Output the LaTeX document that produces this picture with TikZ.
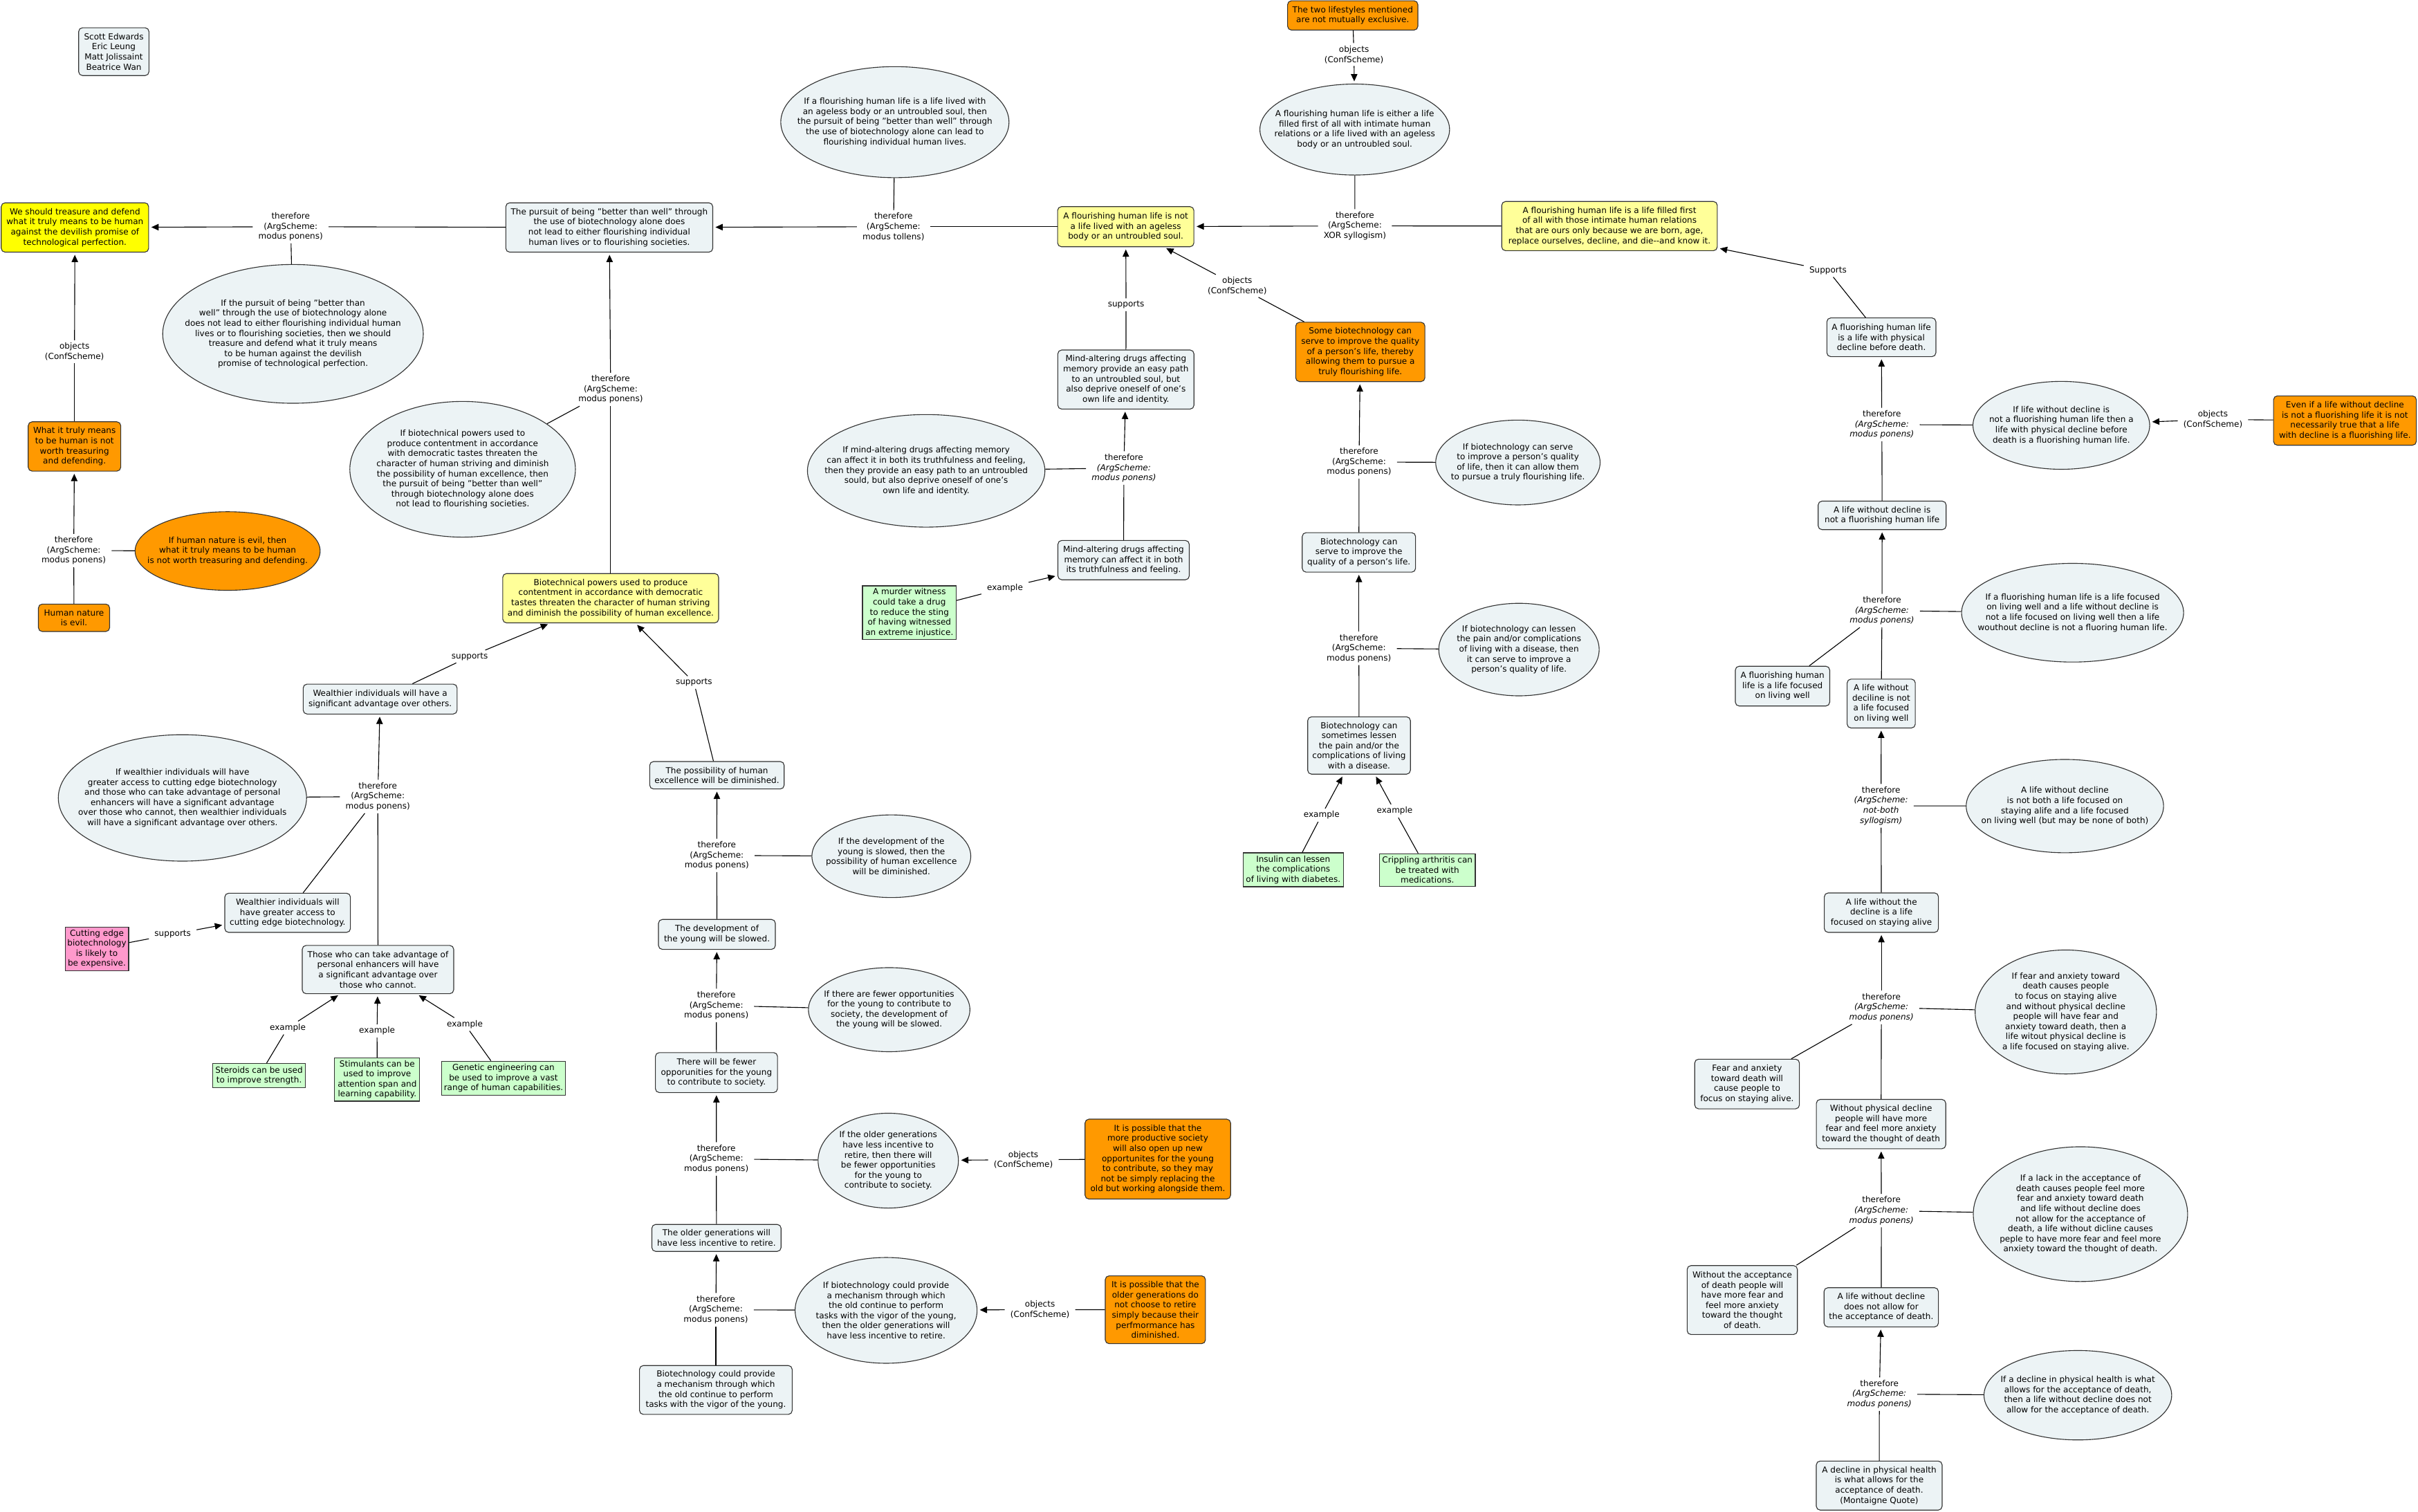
\documentclass[tikz,border=0pt]{standalone}
\usepackage{fontspec}
\setmainfont{DejaVu Sans}
\usetikzlibrary{shapes.geometric,arrows.meta}
\definecolor{lightbg}{RGB}{236,243,245}
\definecolor{yel}{RGB}{255,255,0}
\definecolor{lyel}{RGB}{255,255,153}
\definecolor{orng}{RGB}{255,153,0}
\definecolor{grn}{RGB}{204,255,204}
\definecolor{pnk}{RGB}{255,153,204}
\newcommand{\dgfs}{\fontsize{5.4pt}{6.55pt}\selectfont}
\tikzset{
 dbase/.style={draw=black!80, line width=0.5pt, rounded corners=2.5pt, align=center, inner xsep=1.5pt, inner ysep=1pt, font=\dgfs, text=black},
 dwh/.style 2 args={minimum width=#1pt, minimum height=#2pt},
 dbox/.style={dbase, fill=lightbg},
 dyel/.style={dbase, fill=yel},
 dlyel/.style={dbase, fill=lyel},
 dorg/.style={dbase, fill=orng},
 dgrn/.style={dbase, sharp corners, fill=grn},
 dpink/.style={dbase, sharp corners, fill=pnk},
 dell/.style={ellipse, draw=black!80, line width=0.5pt, fill=lightbg, inner sep=0pt},
 doell/.style={dell, fill=orng},
 dtxt/.style={align=center, font=\dgfs, inner sep=0pt, text=black},
 dlbl/.style={align=center, font=\dgfs, inner xsep=3.5pt, inner ysep=1.5pt, text=black},
 dcon/.style={line width=0.5pt, draw=black},
 darr/.style={dcon, -{Triangle[length=4.7pt,width=4.2pt]}, shorten >=1.5pt},
}
\begin{document}
\begin{tikzpicture}[x=1pt,y=-1pt]
\fill[white] (0,0) rectangle (1568,980);
\useasboundingbox (0,0) rectangle (1568,980);

% ---------- left part ----------
\node[dbox, dwh={45.6}{31}] (authors) at (73.8,33.5) {Scott Edwards\\Eric Leung\\Matt Jolissaint\\Beatrice Wan};
\node[dyel, dwh={95.6}{32}] (yel1) at (48.6,147.5) {We should treasure and defend\\what it truly means to be human\\against the devilish promise of\\technological perfection.};
\node[dlbl] (lA) at (188.5,147) {therefore\\(ArgScheme:\\modus ponens)};
\node[dell, dwh={169}{90}, label={[dtxt]center:{If the pursuit of being "better than\\well" through the use of biotechnology alone\\does not lead to either flourishing individual human\\lives or to flourishing societies, then we should\\treasure and defend what it truly means\\to be human against the devilish\\promise of technological perfection.}}] (e4) at (190,216.5) {};
\node[dlbl] (objA) at (48.3,228) {objects\\(ConfScheme)};
\node[dorg, dwh={60}{32}] (what) at (48.3,289.5) {What it truly means\\to be human is not\\worth treasuring\\and defending.};
\node[dlbl] (lB) at (47.8,357) {therefore\\(ArgScheme:\\modus ponens)};
\node[doell, dwh={120}{51}, label={[dtxt]center:{If human nature is evil, then\\what it truly means to be human\\is not worth treasuring and defending.}}] (oe7) at (147.6,357.3) {};
\node[dorg, dwh={46.2}{17.8}] (human) at (48,400.6) {Human nature\\is evil.};

\node[dbox, dwh={134.2}{32}] (pursuit) at (395.1,147.5) {The pursuit of being "better than well" through\\the use of biotechnology alone does\\not lead to either flourishing individual\\human lives or to flourishing societies.};
\node[dlbl] (lTol) at (579.4,147) {therefore\\(ArgScheme:\\modus tollens)};
\node[dell, dwh={148}{72}, label={[dtxt]center:{If a flourishing human life is a life lived with\\an ageless body or an untroubled soul, then\\the pursuit of being "better than well" through\\the use of biotechnology alone can lead to\\flourishing individual human lives.}}] (e11) at (580.3,79.2) {};
\node[dell, dwh={146.3}{88}, label={[dtxt]center:{If biotechnical powers used to\\produce contentment in accordance\\with democratic tastes threaten the\\character of human striving and diminish\\the possibility of human excellence, then\\the pursuit of being "better than well"\\through biotechnology alone does\\not lead to flourishing societies.}}] (e12) at (300,304.3) {};
\node[dlbl] (lC) at (396,252.5) {therefore\\(ArgScheme:\\modus ponens)};
\node[dlyel, dwh={140}{32}] (biot) at (396,387.9) {Biotechnical powers used to produce\\contentment in accordance with democratic\\tastes threaten the character of human striving\\and diminish the possibility of human excellence.};
\node[dbox, dwh={99.8}{19.4}] (wealth) at (246.5,453.3) {Wealthier individuals will have a\\significant advantage over others.};
\node[dlbl] (sup1) at (304.6,425.7) {supports};
\node[dlbl] (sup2) at (450,442.5) {supports};
\node[dlbl] (lD) at (245,516.5) {therefore\\(ArgScheme:\\modus ponens)};
\node[dell, dwh={161}{82}, label={[dtxt]center:{If wealthier individuals will have\\greater access to cutting edge biotechnology\\and those who can take advantage of personal\\enhancers will have a significant advantage\\over those who cannot, then wealthier individuals\\will have a significant advantage over others.}}] (e15) at (118.3,517.4) {};
\node[dbox, dwh={81.5}{25.4}] (access) at (186.5,591.9) {Wealthier individuals will\\have greater access to\\cutting edge biotechnology.};
\node[dpink, dwh={40.5}{28.3}] (pink) at (62.8,615.2) {Cutting edge\\biotechnology\\is likely to\\be expensive.};
\node[dlbl] (sup3) at (112,605.8) {supports};
\node[dbox, dwh={98.2}{31.3}] (those) at (245.1,628.7) {Those who can take advantage of\\personal enhancers will have\\a significant advantage over\\those who cannot.};
\node[dgrn, dwh={60.4}{15.6}] (steroids) at (168,697.5) {Steroids can be used\\to improve strength.};
\node[dgrn, dwh={55.2}{28}] (stim) at (244.6,700) {Stimulants can be\\used to improve\\attention span and\\learning capability.};
\node[dgrn, dwh={80.3}{22.3}] (genetic) at (326.5,699.2) {Genetic engineering can\\be used to improve a vast\\range of human capabilities.};
\node[dlbl] (ex1) at (186.6,666.5) {example};
\node[dlbl] (ex2) at (244.5,668.5) {example};
\node[dlbl] (ex3) at (301.4,664.2) {example};

% ---------- young column ----------
\node[dbox, dwh={87.2}{17.8}] (possib) at (464.9,502.7) {The possibility of human\\excellence will be diminished.};
\node[dlbl] (lE) at (464.8,554.7) {therefore\\(ArgScheme:\\modus ponens)};
\node[dell, dwh={103}{53.6}, label={[dtxt]center:{If the development of the\\young is slowed, then the\\possibility of human excellence\\will be diminished.}}] (e21) at (578,555.2) {};
\node[dbox, dwh={75.8}{19.4}] (dev) at (464.9,605.9) {The development of\\the young will be slowed.};
\node[dlbl] (lF) at (464.5,652) {therefore\\(ArgScheme:\\modus ponens)};
\node[dell, dwh={104.7}{54.5}, label={[dtxt]center:{If there are fewer opportunities\\for the young to contribute to\\society, the development of\\the young will be slowed.}}] (e23) at (576.6,654.7) {};
\node[dbox, dwh={79.2}{25.9}] (fewer) at (464.6,695.5) {There will be fewer\\opporunities for the young\\to contribute to society.};
\node[dlbl] (lG) at (464.5,751.5) {therefore\\(ArgScheme:\\modus ponens)};
\node[dell, dwh={91}{61.5}, label={[dtxt]center:{If the older generations\\have less incentive to\\retire, then there will\\be fewer opportunities\\for the young to\\contribute to society.}}] (e25) at (576,752.6) {};
\node[dorg, dwh={94.4}{51.8}] (oprod) at (750.8,751.6) {It is possible that the\\more productive society\\will also open up new\\opportunites for the young\\to contribute, so they may\\not be simply replacing the\\old but working alongside them.};
\node[dlbl] (objB) at (663.6,752) {objects\\(ConfScheme)};
\node[dbox, dwh={83.8}{17.5}] (older) at (464.6,802.7) {The older generations will\\have less incentive to retire.};
\node[dlbl] (lH) at (464.2,849.3) {therefore\\(ArgScheme:\\modus ponens)};
\node[dell, dwh={118}{68.6}, label={[dtxt]center:{If biotechnology could provide\\a mechanism through which\\the old continue to perform\\tasks with the vigor of the young,\\then the older generations will\\have less incentive to retire.}}] (e27) at (574.6,849.7) {};
\node[dorg, dwh={65}{44}] (oolder) at (749.2,849.3) {It is possible that the\\older generations do\\not choose to retire\\simply because their\\perfmormance has\\diminished.};
\node[dlbl] (objC) at (674.4,849.2) {objects\\(ConfScheme)};
\node[dbox, dwh={99}{31.7}] (could) at (464.2,901.3) {Biotechnology could provide\\a mechanism through which\\the old continue to perform\\tasks with the vigor of the young.};

% ---------- middle ----------
\node[dlyel, dwh={88.4}{26}] (yel29) at (730,147) {A flourishing human life is not\\a life lived with an ageless\\body or an untroubled soul.};
\node[dlbl] (lXOR) at (878.6,146.5) {therefore\\(ArgScheme:\\XOR syllogism)};
\node[dell, dwh={123}{59}, label={[dtxt]center:{A flourishing human life is either a life\\filled first of all with intimate human\\relations or a life lived with an ageless\\body or an untroubled soul.}}] (eEither) at (878.5,84) {};
\node[dorg, dwh={84.5}{19}] (two) at (877.2,10) {The two lifestyles mentioned\\are not mutually exclusive.};
\node[dlbl] (objD) at (878,35.4) {objects\\(ConfScheme)};
\node[dlbl] (sup4) at (730.2,197.6) {supports};
\node[dlbl] (objE) at (802.3,185.4) {objects\\(ConfScheme)};
\node[dbox, dwh={88.3}{38.3}] (mind34) at (730.1,246.1) {Mind-altering drugs affecting\\memory provide an easy path\\to an untroubled soul, but\\also deprive oneself of one's\\own life and identity.};
\node[dlbl] (lI) at (728.8,303.5) {therefore\\\textit{(ArgScheme:}\\\textit{modus ponens)}};
\node[dell, dwh={154}{73}, label={[dtxt]center:{If mind-altering drugs affecting memory\\can affect it in both its truthfulness and feeling,\\then they provide an easy path to an untroubled\\sould, but also deprive oneself of one's\\own life and identity.}}] (eMind) at (600.6,305.3) {};
\node[dbox, dwh={85.2}{25.5}] (mind36) at (728.6,363.2) {Mind-altering drugs affecting\\memory can affect it in both\\its truthfulness and feeling.};
\node[dgrn, dwh={60.8}{34.8}] (murder) at (589.7,397.3) {A murder witness\\could take a drug\\to reduce the sting\\of having witnessed\\an extreme injustice.};
\node[dlbl] (ex4) at (651.7,381.2) {example};
\node[dorg, dwh={83.8}{38.5}] (o38) at (882.1,228.2) {Some biotechnology can\\serve to improve the quality\\of a person's life, thereby\\allowing them to pursue a\\truly flourishing life.};
\node[dlbl] (lJ) at (881.3,299.6) {therefore\\(ArgScheme:\\modus ponens)};
\node[dell, dwh={106.6}{55}, label={[dtxt]center:{If biotechnology can serve\\to improve a person's quality\\of life, then it can allow them\\to pursue a truly flourishing life.}}] (e39) at (984.3,299.9) {};
\node[dbox, dwh={73.5}{25.6}] (serve) at (881.2,358.2) {Biotechnology can\\serve to improve the\\quality of a person's life.};
\node[dlbl] (lK) at (881.2,420.4) {therefore\\(ArgScheme:\\modus ponens)};
\node[dell, dwh={104}{60}, label={[dtxt]center:{If biotechnology can lessen\\the pain and/or complications\\of living with a disease, then\\it can serve to improve a\\person's quality of life.}}] (e41) at (985,421.2) {};
\node[dbox, dwh={66.6}{37.2}] (lessen) at (881.3,483.4) {Biotechnology can\\sometimes lessen\\the pain and/or the\\complications of living\\with a disease.};
\node[dgrn, dwh={65.1}{22}] (insulin) at (838.6,564) {Insulin can lessen\\the complications\\of living with diabetes.};
\node[dgrn, dwh={62.1}{21.1}] (crip) at (925.6,564.1) {Crippling arthritis can\\be treated with\\medications.};
\node[dlbl] (ex5) at (857,528.6) {example};
\node[dlbl] (ex6) at (904.4,525.9) {example};

% ---------- right ----------
\node[dlyel, dwh={139.8}{31.9}] (yel45) at (1043.7,146.6) {A flourishing human life is a life filled first\\of all with those intimate human relations\\that are ours only because we are born, age,\\replace ourselves, decline, and die-{}-and know it.};
\node[dlbl] (sup5) at (1185.4,175.4) {Supports};
\node[dbox, dwh={70.7}{25.1}] (phys) at (1220,218.7) {A fluorishing human life\\is a life with physical\\decline before death.};
\node[dlbl] (lL) at (1220.3,275.3) {therefore\\\textit{(ArgScheme:}\\\textit{modus ponens)}};
\node[dell, dwh={114.6}{57}, label={[dtxt]center:{If life without decline is\\not a fluorishing human life then a\\life with physical decline before\\death is a fluorishing human life.}}] (e48) at (1336.7,275.8) {};
\node[dorg, dwh={92.6}{32}] (oeven) at (1520.6,272.7) {Even if a life without decline\\is not a fluorishing life it is not\\necessarily true that a life\\with decline is a fluorishing life.};
\node[dlbl] (objF) at (1435,272) {objects\\(ConfScheme)};
\node[dbox, dwh={83}{18.5}] (notfl) at (1220.5,334.2) {A life without decline is\\not a fluorishing human life};
\node[dlbl] (lM) at (1220.4,396) {therefore\\\textit{(ArgScheme:}\\\textit{modus ponens)}};
\node[dell, dwh={144}{64}, label={[dtxt]center:{If a fluorishing human life is a life focused\\on living well and a life without decline is\\not a life focused on living well then a life\\wouthout decline is not a fluoring human life.}}] (e50) at (1344,397.3) {};
\node[dbox, dwh={61.2}{25.8}] (livwell) at (1155.9,444.9) {A fluorishing human\\life is a life focused\\on living well};
\node[dbox, dwh={44.2}{31.7}] (decil) at (1219.9,456.2) {A life without\\deciline is not\\a life focused\\on living well};
\node[dlbl] (lN) at (1219.8,522.5) {therefore\\\textit{(ArgScheme:}\\\textit{not-both}\\\textit{syllogism)}};
\node[dell, dwh={128}{60.5}, label={[dtxt]center:{A life without decline\\is not both a life focused on\\staying alife and a life focused\\on living well (but may be none of both)}}] (e52) at (1339,522.7) {};
\node[dbox, dwh={74}{25.6}] (stay) at (1220,591.8) {A life without the\\decline is a life\\focused on staying alive};
\node[dlbl] (lO) at (1220,653.3) {therefore\\\textit{(ArgScheme:}\\\textit{modus ponens)}};
\node[dell, dwh={117.6}{80.4}, label={[dtxt]center:{If fear and anxiety toward\\death causes people\\to focus on staying alive\\and without physical decline\\people will have fear and\\anxiety toward death, then a\\life witout physical decline is\\a life focused on staying alive.}}] (e54) at (1339.6,656.2) {};
\node[dbox, dwh={67.9}{32.2}] (fearb) at (1132.9,702.9) {Fear and anxiety\\toward death will\\cause people to\\focus on staying alive.};
\node[dbox, dwh={83.9}{32}] (fearmore) at (1219.8,728.9) {Without physical decline\\people will have more\\fear and feel more anxiety\\toward the thought of death};
\node[dlbl] (lP) at (1220,785) {therefore\\\textit{(ArgScheme:}\\\textit{modus ponens)}};
\node[dell, dwh={139}{87.4}, label={[dtxt]center:{If a lack in the acceptance of\\death causes people feel more\\fear and anxiety toward death\\and life without decline does\\not allow for the acceptance of\\death, a life without dicline causes\\peple to have more fear and feel more\\anxiety toward the thought of death.}}] (e56) at (1349.1,787.3) {};
\node[dbox, dwh={71.5}{44.7}] (woacc) at (1129.8,843) {Without the acceptance\\of death people will\\have more fear and\\feel more anxiety\\toward the thought\\of death.};
\node[dbox, dwh={74.2}{25.4}] (accept) at (1219.9,847.7) {A life without decline\\does not allow for\\the acceptance of death.};
\node[dlbl] (lQ) at (1218.7,904) {therefore\\\textit{(ArgScheme:}\\\textit{modus ponens)}};
\node[dell, dwh={121.7}{58}, label={[dtxt]center:{If a decline in physical health is what\\allows for the acceptance of death,\\then a life without decline does not\\allow for the acceptance of death.}}] (e58) at (1347.4,904.7) {};
\node[dbox, dwh={81.6}{31.8}] (mont) at (1218.6,963.3) {A decline in physical health\\is what allows for the\\acceptance of death.\\(Montaigne Quote)};

% ---------- connectors ----------
\draw[dcon] (pursuit) -- (lA); \draw[darr] (lA) -- (yel1); \draw[dcon] (e4) -- (lA);
\draw[dcon] (what) -- (objA); \draw[darr] (objA) -- (yel1);
\draw[dcon] (human) -- (lB); \draw[darr] (lB) -- (what); \draw[dcon] (oe7) -- (lB);
\draw[dcon] (yel29) -- (lTol); \draw[darr] (lTol) -- (pursuit); \draw[dcon] (e11) -- (lTol);
\draw[dcon] (biot) -- (lC); \draw[darr] (lC) -- (pursuit); \draw[dcon] (e12) -- (lC);
\draw[dcon] (wealth) -- (sup1); \draw[darr] (sup1) -- (biot);
\draw[dcon] (possib) -- (sup2); \draw[darr] (sup2) -- (biot);
\draw[dcon] (those) -- (lD); \draw[darr] (lD) -- (wealth); \draw[dcon] (e15) -- (lD); \draw[dcon] (access) -- (lD);
\draw[dcon] (pink) -- (sup3); \draw[darr] (sup3) -- (access);
\draw[dcon] (steroids) -- (ex1); \draw[darr] (ex1) -- (those);
\draw[dcon] (stim) -- (ex2); \draw[darr] (ex2) -- (those);
\draw[dcon] (genetic) -- (ex3); \draw[darr] (ex3) -- (those);

\draw[dcon] (dev) -- (lE); \draw[darr] (lE) -- (possib); \draw[dcon] (e21) -- (lE);
\draw[dcon] (fewer) -- (lF); \draw[darr] (lF) -- (dev); \draw[dcon] (e23) -- (lF);
\draw[dcon] (older) -- (lG); \draw[darr] (lG) -- (fewer); \draw[dcon] (e25) -- (lG);
\draw[dcon] (oprod) -- (objB); \draw[darr] (objB) -- (e25);
\draw[dcon] (could) -- (lH); \draw[darr] (lH) -- (older); \draw[dcon] (e27) -- (lH);
\draw[dcon] (oolder) -- (objC); \draw[darr] (objC) -- (e27);

\draw[dcon] (yel45) -- (lXOR); \draw[darr] (lXOR) -- (yel29); \draw[dcon] (eEither) -- (lXOR);
\draw[dcon] (two) -- (objD); \draw[darr] (objD) -- (eEither);
\draw[dcon] (mind34) -- (sup4); \draw[darr] (sup4) -- (yel29);
\draw[dcon] (o38) -- (objE); \draw[darr] (objE) -- (yel29);
\draw[dcon] (mind36) -- (lI); \draw[darr] (lI) -- (mind34); \draw[dcon] (eMind) -- (lI);
\draw[dcon] (murder) -- (ex4); \draw[darr] (ex4) -- (mind36);
\draw[dcon] (serve) -- (lJ); \draw[darr] (lJ) -- (o38); \draw[dcon] (e39) -- (lJ);
\draw[dcon] (lessen) -- (lK); \draw[darr] (lK) -- (serve); \draw[dcon] (e41) -- (lK);
\draw[dcon] (insulin) -- (ex5); \draw[darr] (ex5) -- (lessen);
\draw[dcon] (crip) -- (ex6); \draw[darr] (ex6) -- (lessen);

\draw[dcon] (phys) -- (sup5); \draw[darr] (sup5) -- (yel45);
\draw[dcon] (notfl) -- (lL); \draw[darr] (lL) -- (phys); \draw[dcon] (e48) -- (lL);
\draw[dcon] (oeven) -- (objF); \draw[darr] (objF) -- (e48);
\draw[dcon] (decil) -- (lM); \draw[darr] (lM) -- (notfl); \draw[dcon] (e50) -- (lM); \draw[dcon] (livwell) -- (lM);
\draw[dcon] (stay) -- (lN); \draw[darr] (lN) -- (decil); \draw[dcon] (e52) -- (lN);
\draw[dcon] (fearmore) -- (lO); \draw[darr] (lO) -- (stay); \draw[dcon] (e54) -- (lO); \draw[dcon] (fearb) -- (lO);
\draw[dcon] (accept) -- (lP); \draw[darr] (lP) -- (fearmore); \draw[dcon] (e56) -- (lP); \draw[dcon] (woacc) -- (lP);
\draw[dcon] (mont) -- (lQ); \draw[darr] (lQ) -- (accept); \draw[dcon] (e58) -- (lQ);
\end{tikzpicture}
\end{document}
